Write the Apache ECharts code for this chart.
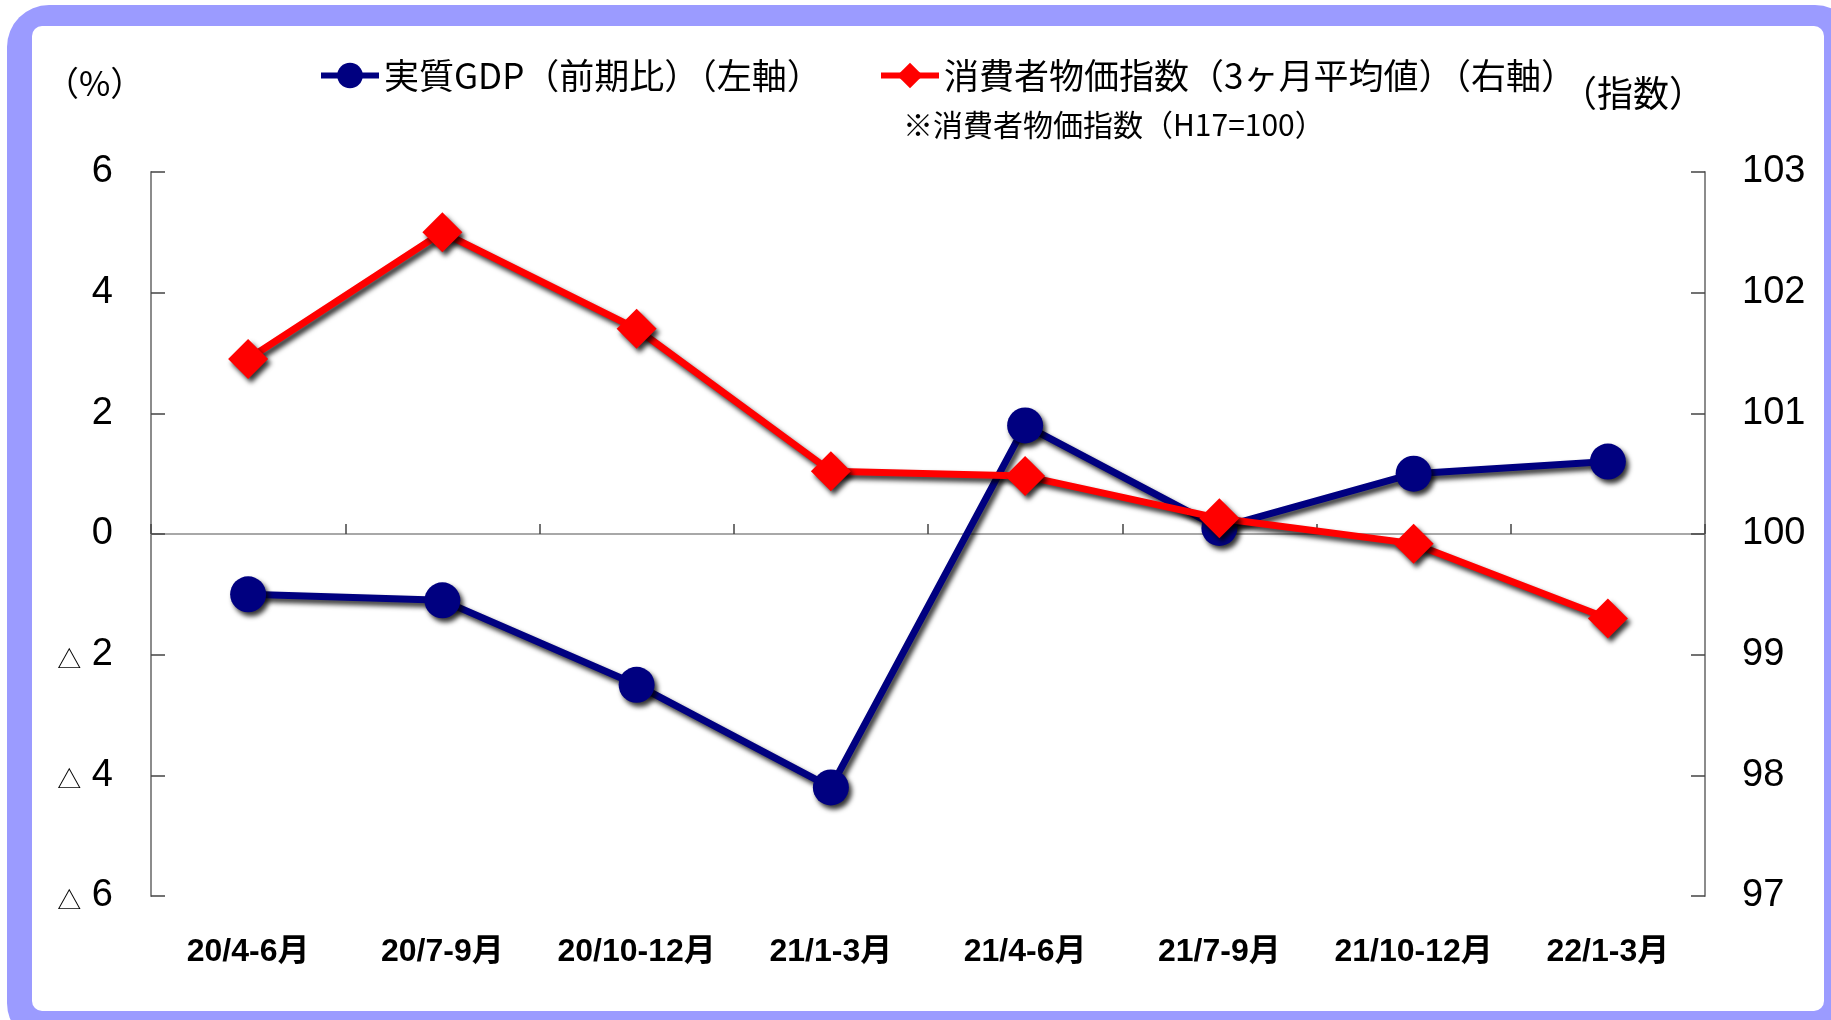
<!DOCTYPE html>
<html>
<head>
<meta charset="utf-8">
<script src="https://cdn.jsdelivr.net/npm/echarts@6/dist/echarts.min.js"></script>
<style>
html,body{margin:0;padding:0;width:1831px;height:1020px;background:#fff;overflow:hidden;}
#frame{position:absolute;left:7px;top:5px;width:1850px;height:1040px;background:#9b9bff;border-radius:42px;}
#inner{position:absolute;left:32px;top:26px;width:1792px;height:985px;background:#fff;border-radius:10px;}
#chart{position:absolute;left:0;top:0;width:1831px;height:1020px;}
</style>
</head>
<body>
<div id="frame"></div>
<div id="inner"></div>
<div id="chart"></div>
<script>
const categories = ['20/4-6月','20/7-9月','20/10-12月','21/1-3月','21/4-6月','21/7-9月','21/10-12月','22/1-3月'];
const gdpName = '実質GDP（前期比）（左軸）';
const cpiName = '消費者物価指数（3ヶ月平均値）（右軸）';
const gdpValues = [-1.0, -1.1, -2.5, -4.2, 1.8, 0.1, 1.0, 1.2];
const cpiValues = [101.45, 102.5, 101.7, 100.52, 100.48, 100.13, 99.92, 99.3];
const leftTicks = {min: -6, max: 6, interval: 2};
const rightTicks = {min: 97, max: 103, interval: 1};

const numFont = "'Liberation Sans', Arial, 'Noto Sans CJK JP', sans-serif";
const jpFont = "'Noto Sans CJK JP', 'Liberation Sans', sans-serif";
const shadow = {shadowColor: 'rgba(0,0,0,0.8)', shadowBlur: 5, shadowOffsetX: 3, shadowOffsetY: 4};

const chart = echarts.init(document.getElementById('chart'), null, {renderer: 'canvas'});
chart.setOption({
  backgroundColor: 'transparent',
  animation: false,
  grid: {left: 151, right: 126, top: 172, bottom: 124, containLabel: false},
  legend: [
    {data: [gdpName], left: 313, top: 53, itemWidth: 58, itemHeight: 32,
     lineStyle: {width: 6, shadowBlur: 0, shadowOffsetX: 0, shadowOffsetY: 0},
     itemStyle: {shadowBlur: 0, shadowOffsetX: 0, shadowOffsetY: 0},
     textStyle: {fontFamily: jpFont, fontSize: 35, color: '#000'}},
    {data: [cpiName], left: 873, top: 53, itemWidth: 58, itemHeight: 32,
     lineStyle: {width: 6, shadowBlur: 0, shadowOffsetX: 0, shadowOffsetY: 0},
     itemStyle: {shadowBlur: 0, shadowOffsetX: 0, shadowOffsetY: 0},
     textStyle: {fontFamily: jpFont, fontSize: 35, color: '#000'}}
  ],
  xAxis: [
    {type: 'category', data: categories, position: 'bottom', boundaryGap: true,
     axisLine: {show: false, onZero: false}, axisTick: {show: false},
     axisLabel: {interval: 0, margin: 40, fontFamily: numFont, fontSize: 32, fontWeight: 'bold', color: '#000'}},
    {type: 'category', data: categories, position: 'bottom', boundaryGap: true,
     axisLine: {show: true, onZero: true, onZeroAxisIndex: 0, lineStyle: {color: '#a8a8a8', width: 2}},
     axisTick: {show: true, interval: 0, inside: true, length: 10, lineStyle: {color: '#444', width: 1.5}},
     axisLabel: {show: false}}
  ],
  yAxis: [
    {type: 'value', position: 'left', min: leftTicks.min, max: leftTicks.max, interval: leftTicks.interval,
     splitLine: {show: false},
     axisLine: {show: true, lineStyle: {color: '#8c8c8c', width: 2}},
     axisTick: {show: true, inside: true, length: 14, lineStyle: {color: '#444', width: 1.5}},
     axisLabel: {margin: 38, fontFamily: numFont, fontSize: 38, color: '#000',
       formatter: v => v < 0 ? '{t|△} ' + Math.abs(v) : String(v),
       rich: {t: {fontSize: 24, fontFamily: jpFont, color: '#000', padding: [8, 0, 0, 0]}}}},
    {type: 'value', position: 'right', min: rightTicks.min, max: rightTicks.max, interval: rightTicks.interval,
     splitLine: {show: false},
     axisLine: {show: true, lineStyle: {color: '#8c8c8c', width: 2}},
     axisTick: {show: true, inside: true, length: 14, lineStyle: {color: '#444', width: 1.5}},
     axisLabel: {margin: 37, fontFamily: numFont, fontSize: 38, color: '#000'}}
  ],
  series: [
    {name: gdpName, type: 'line', xAxisIndex: 0, yAxisIndex: 0, data: gdpValues,
     symbol: 'circle', symbolSize: 36, color: '#000080',
     lineStyle: Object.assign({color: '#000080', width: 7}, shadow),
     itemStyle: Object.assign({color: '#000080'}, shadow), z: 3},
    {name: cpiName, type: 'line', xAxisIndex: 0, yAxisIndex: 1, data: cpiValues,
     symbol: 'diamond', symbolSize: 40, color: '#ff0000',
     lineStyle: Object.assign({color: '#ff0000', width: 7}, shadow),
     itemStyle: Object.assign({color: '#ff0000'}, shadow), z: 4}
  ],
  graphic: [
    {type: 'text', left: 45, top: 66, style: {text: '（%）', font: "34px 'Noto Sans CJK JP'", fill: '#000'}},
    {type: 'text', left: 1561, top: 75, style: {text: '（指数）', font: "36px 'Noto Sans CJK JP'", fill: '#000'}},
    {type: 'text', left: 903, top: 110, style: {text: '※消費者物価指数（H17=100）', font: "30px 'Noto Sans CJK JP'", fill: '#000'}}
  ]
});
</script>
</body>
</html>
